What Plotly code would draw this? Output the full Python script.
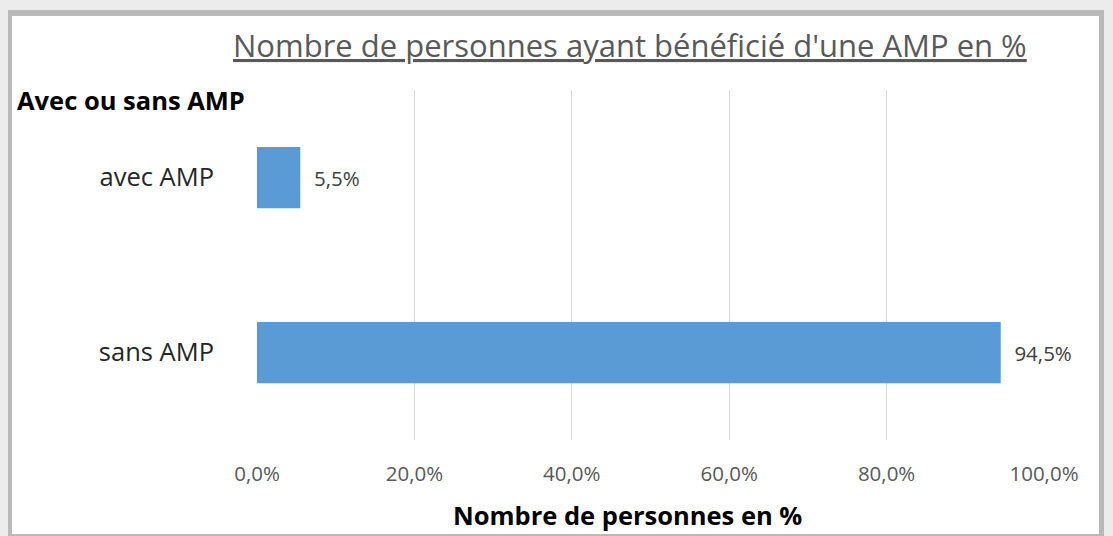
import plotly.graph_objects as go

categories = ["avec AMP", "sans AMP"]
values = [5.5, 94.5]
tick_values = [0, 20, 40, 60, 80, 100]
tick_labels = ["0,0%", "20,0%", "40,0%", "60,0%", "80,0%", "100,0%"]

title_text = "Nombre de personnes ayant bénéficié d'une AMP en %"
x_title = "Nombre de personnes en %"
y_title = "Avec ou sans AMP"

W, H = 1113, 536
L, R, T, B = 257, 1044, 90, 440  # plot area in px


def px(xp):
    return (xp - L) / (R - L)


def py(yp):
    return (B - yp) / (B - T)


FONT = "Open Sans"

fig = go.Figure(
    go.Bar(
        x=values,
        y=categories,
        orientation="h",
        width=0.35,
        marker=dict(color="#5b9bd5", line=dict(width=0)),
        texttemplate="\u00a0\u00a0%{x:.1f}%",
        textposition="outside",
        textfont=dict(family=FONT, size=20.5, color="#404040"),
        cliponaxis=False,
        hoverinfo="skip",
    )
)

shapes = [
    dict(type="rect", xref="paper", yref="paper", x0=px(8), x1=px(1104), y0=py(536), y1=py(10),
         fillcolor="#b9b9b9", line=dict(width=0), layer="below"),
    dict(type="rect", xref="paper", yref="paper", x0=px(12), x1=px(1099), y0=py(534), y1=py(16),
         fillcolor="white", line=dict(width=0), layer="below"),
]

annotations = [
    dict(text=title_text, xref="paper", yref="paper", x=px(630), y=py(45), xanchor="center",
         yanchor="middle", showarrow=False,
         font=dict(family=FONT, size=31, color="#595959", lineposition="under")),
    dict(text="<b>" + y_title + "</b>", xref="paper", yref="paper", x=px(15), y=py(100),
         xanchor="left", yanchor="middle", showarrow=False,
         font=dict(family=FONT, size=25.5, color="black")),
    dict(text="<b>" + x_title + "</b>", xref="paper", yref="paper", x=px(627), y=py(515),
         xanchor="center", yanchor="middle", showarrow=False,
         font=dict(family=FONT, size=25.5, color="black")),
]

fig.update_layout(
    width=W,
    height=H,
    margin=dict(l=L, r=W - R, t=T, b=H - B, pad=0),
    paper_bgcolor="#ececec",
    plot_bgcolor="rgba(0,0,0,0)",
    separators=", ",
    showlegend=False,
    shapes=shapes,
    annotations=annotations,
    xaxis=dict(
        range=[0, 100],
        tickvals=tick_values,
        ticktext=tick_labels,
        showgrid=True,
        gridcolor="#d9d9d9",
        gridwidth=1,
        zeroline=False,
        showline=False,
        ticks="",
        ticklabelstandoff=19,
        tickfont=dict(family=FONT, size=20.5, color="#595959"),
    ),
    yaxis=dict(
        autorange="reversed",
        showgrid=False,
        zeroline=False,
        showline=False,
        ticks="",
        ticklabelstandoff=42,
        tickfont=dict(family=FONT, size=25.5, color="#262626"),
    ),
)

fig.write_html(
    "out.html",
    config={"displayModeBar": False},
    post_script="document.body.style.margin='0';",
)
